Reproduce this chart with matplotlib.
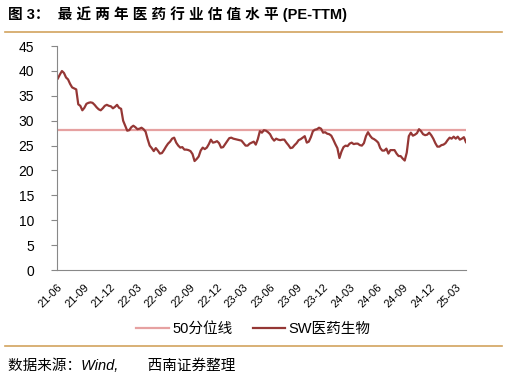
import pandas as pd
import matplotlib.dates as mdates
from matplotlib import pyplot as plt
from matplotlib.lines import Line2D

plt.rcParams['font.family'] = ['Liberation Sans', 'Noto Sans CJK SC']

# weekly PE-TTM of the SW pharma index
start = '2021-06-04'
pe = [38.5, 39.3, 40.0, 39.6, 38.7, 38.3, 37.4, 36.7, 36.5, 36.3,
      33.3, 33.0, 32.1, 32.6, 33.4, 33.6, 33.7, 33.6, 33.2, 32.7,
      32.3, 32.1, 32.5, 33.0, 33.2, 33.0, 32.9, 32.5, 32.8, 33.2,
      32.6, 32.4, 30.0, 29.0, 28.0, 28.1, 28.7, 29.0, 28.7, 28.3,
      28.4, 28.6, 28.3, 27.8, 26.3, 25.0, 24.5, 23.9, 24.5, 24.0,
      23.4, 23.5, 24.1, 24.8, 25.4, 25.8, 26.4, 26.6, 25.6, 25.0,
      24.6, 24.7, 24.2, 24.2, 24.1, 23.9, 23.3, 21.9, 22.3, 22.8,
      24.0, 24.6, 24.3, 24.6, 25.3, 26.2, 25.6, 25.7, 25.9, 25.5,
      24.6, 24.7, 25.3, 25.9, 26.5, 26.6, 26.4, 26.3, 26.2, 26.1,
      26.0, 25.5, 25.0, 25.0, 25.4, 25.6, 25.8, 25.2, 26.3, 27.9,
      27.6, 28.1, 28.0, 27.7, 27.3, 26.5, 26.0, 26.4, 26.2, 26.1,
      26.2, 26.2, 25.6, 25.1, 24.5, 24.6, 25.1, 25.5, 26.1, 26.3,
      26.6, 26.9, 25.6, 25.8, 26.7, 27.9, 28.2, 28.3, 28.6, 28.4,
      27.6, 27.7, 27.4, 27.3, 27.0, 26.2, 25.3, 24.5, 22.5, 23.8,
      24.7, 25.0, 24.9, 25.4, 25.6, 25.3, 25.4, 25.4, 25.1, 25.0,
      25.5, 26.9, 27.7, 27.0, 26.5, 26.3, 26.0, 25.6, 24.5, 24.0,
      24.0, 24.4, 23.4, 24.1, 24.1, 24.1, 23.4, 22.9, 22.9, 22.4,
      22.0, 23.6, 26.9, 27.6, 27.0, 27.2, 27.5, 28.3, 27.9, 27.3,
      27.1, 27.2, 27.6, 27.1, 26.4, 25.5, 24.8, 24.8, 25.1, 25.2,
      25.5, 26.1, 26.6, 26.4, 26.8, 26.4, 26.8, 26.2, 26.4, 26.7,
      25.7]
median_pe = 28.2
labels = ['50分位线', 'SW医药生物']
dates = pd.date_range(start, periods=len(pe), freq='W-FRI')

fig = plt.figure(figsize=(5.07, 3.78), dpi=100)
ax = fig.add_axes([0.1124, 0.2857, 0.8066, 0.5923])

ax.plot(dates, [median_pe] * len(dates), color='#E6A1A1', lw=1.6)
ax.plot(dates, pe, color='#953735', lw=1.6)

ax.set_ylim(0, 45)
ax.set_yticks(range(0, 46, 5))
ax.set_xlim(pd.Timestamp('2021-06-01'), dates[-1])
ax.xaxis.set_major_locator(mdates.MonthLocator(bymonth=[3, 6, 9, 12]))
ax.xaxis.set_major_formatter(mdates.DateFormatter('%y-%m'))
for lbl in ax.get_xticklabels():
    lbl.set_rotation(45)
    lbl.set_ha('right')
    lbl.set_rotation_mode('anchor')
    lbl.set_fontsize(8)
ax.tick_params(axis='x', length=0, pad=9)
ax.tick_params(axis='y', length=4.5, color='#888888', labelsize=10, pad=12)

for s in ['top', 'right']:
    ax.spines[s].set_visible(False)
ax.spines['left'].set_color('#888888')
ax.spines['bottom'].set_color('#888888')

handles = [Line2D([], [], color='#E6A1A1', lw=1.6), Line2D([], [], color='#953735', lw=1.6)]
fig.legend(handles, labels, loc='center', bbox_to_anchor=(0.5, 0.13),
           ncol=2, frameon=False, fontsize=10.5, handlelength=2.2, columnspacing=1.4,
           handletextpad=0.25)

# title, rules and source note (spaced out like the report's letter spacing)
fig.text(0.016, 0.962, '图 3：  最 近 两 年 医 药 行 业 估 值 水 平 (PE-TTM)', fontsize=10.5,
         fontweight='bold', va='center', ha='left')
fig.add_artist(Line2D([0.01, 0.99], [0.915, 0.915], color='#D2A35E', lw=1.2))
fig.add_artist(Line2D([0.01, 0.99], [0.085, 0.085], color='#D2A35E', lw=1.2))
fig.text(0.016, 0.032, '数据来源：Wind,\u3000\u3000西南证券整理', fontsize=10.5, style='italic',
         va='center', ha='left')

fig.savefig('out.png', dpi=100)
